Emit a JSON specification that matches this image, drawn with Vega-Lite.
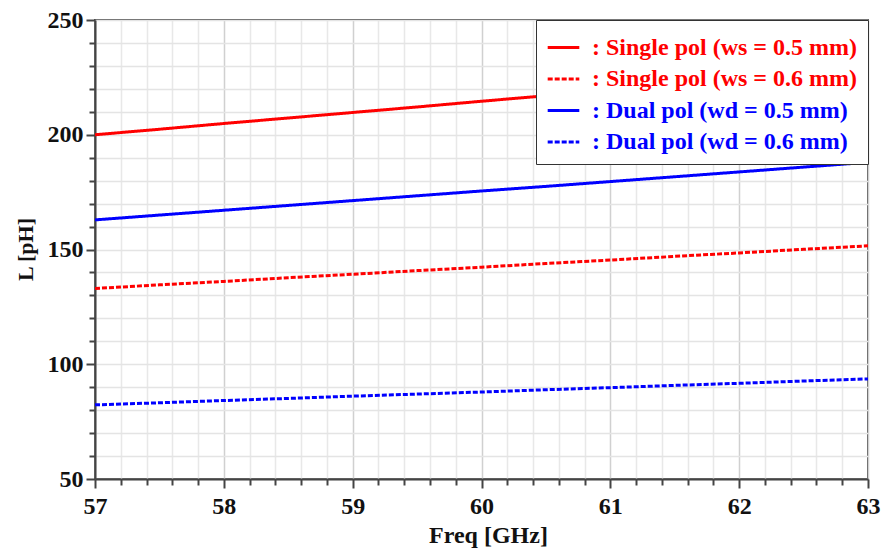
{
  "$schema": "https://vega.github.io/schema/vega-lite/v6.json",
  "autosize": "none",
  "width": 773,
  "height": 459,
  "padding": {"left": 95, "top": 20, "right": 14, "bottom": 73},
  "background": "white",
  "config": {
    "view": {"stroke": "#555", "strokeWidth": 2},
    "font": "Liberation Serif",
    "legend": {
      "title": null,
      "orient": "top-right",
      "offset": 0,
      "fillColor": "white",
      "strokeColor": "#333",
      "padding": 10,
      "symbolType": "stroke",
      "symbolSize": 1000,
      "symbolStrokeWidth": 3,
      "labelFont": "Liberation Serif",
      "labelFontWeight": "bold",
      "labelFontSize": 24,
      "labelLimit": 400,
      "labelOffset": 11,
      "rowPadding": 1.5
    }
  },
  "data": {
    "values": [
      {"f": 57, "L": 200.0, "s": ": Single pol (ws = 0.5 mm)"},
      {"f": 57.5, "L": 202.4, "s": ": Single pol (ws = 0.5 mm)"},
      {"f": 58, "L": 204.9, "s": ": Single pol (ws = 0.5 mm)"},
      {"f": 58.5, "L": 207.3, "s": ": Single pol (ws = 0.5 mm)"},
      {"f": 59, "L": 209.7, "s": ": Single pol (ws = 0.5 mm)"},
      {"f": 59.5, "L": 212.1, "s": ": Single pol (ws = 0.5 mm)"},
      {"f": 60, "L": 214.6, "s": ": Single pol (ws = 0.5 mm)"},
      {"f": 60.5, "L": 217.0, "s": ": Single pol (ws = 0.5 mm)"},
      {"f": 61, "L": 219.4, "s": ": Single pol (ws = 0.5 mm)"},
      {"f": 61.5, "L": 221.8, "s": ": Single pol (ws = 0.5 mm)"},
      {"f": 62, "L": 224.3, "s": ": Single pol (ws = 0.5 mm)"},
      {"f": 62.5, "L": 226.7, "s": ": Single pol (ws = 0.5 mm)"},
      {"f": 63, "L": 229.1, "s": ": Single pol (ws = 0.5 mm)"},
      {"f": 57, "L": 133.0, "s": ": Single pol (ws = 0.6 mm)"},
      {"f": 57.5, "L": 134.6, "s": ": Single pol (ws = 0.6 mm)"},
      {"f": 58, "L": 136.1, "s": ": Single pol (ws = 0.6 mm)"},
      {"f": 58.5, "L": 137.7, "s": ": Single pol (ws = 0.6 mm)"},
      {"f": 59, "L": 139.2, "s": ": Single pol (ws = 0.6 mm)"},
      {"f": 59.5, "L": 140.8, "s": ": Single pol (ws = 0.6 mm)"},
      {"f": 60, "L": 142.3, "s": ": Single pol (ws = 0.6 mm)"},
      {"f": 60.5, "L": 143.9, "s": ": Single pol (ws = 0.6 mm)"},
      {"f": 61, "L": 145.4, "s": ": Single pol (ws = 0.6 mm)"},
      {"f": 61.5, "L": 147.0, "s": ": Single pol (ws = 0.6 mm)"},
      {"f": 62, "L": 148.5, "s": ": Single pol (ws = 0.6 mm)"},
      {"f": 62.5, "L": 150.1, "s": ": Single pol (ws = 0.6 mm)"},
      {"f": 63, "L": 151.6, "s": ": Single pol (ws = 0.6 mm)"},
      {"f": 57, "L": 162.9, "s": ": Dual pol (wd = 0.5 mm)"},
      {"f": 57.5, "L": 165.0, "s": ": Dual pol (wd = 0.5 mm)"},
      {"f": 58, "L": 167.1, "s": ": Dual pol (wd = 0.5 mm)"},
      {"f": 58.5, "L": 169.2, "s": ": Dual pol (wd = 0.5 mm)"},
      {"f": 59, "L": 171.3, "s": ": Dual pol (wd = 0.5 mm)"},
      {"f": 59.5, "L": 173.4, "s": ": Dual pol (wd = 0.5 mm)"},
      {"f": 60, "L": 175.5, "s": ": Dual pol (wd = 0.5 mm)"},
      {"f": 60.5, "L": 177.5, "s": ": Dual pol (wd = 0.5 mm)"},
      {"f": 61, "L": 179.6, "s": ": Dual pol (wd = 0.5 mm)"},
      {"f": 61.5, "L": 181.7, "s": ": Dual pol (wd = 0.5 mm)"},
      {"f": 62, "L": 183.8, "s": ": Dual pol (wd = 0.5 mm)"},
      {"f": 62.5, "L": 185.9, "s": ": Dual pol (wd = 0.5 mm)"},
      {"f": 63, "L": 188.0, "s": ": Dual pol (wd = 0.5 mm)"},
      {"f": 57, "L": 82.3, "s": ": Dual pol (wd = 0.6 mm)"},
      {"f": 57.5, "L": 83.2, "s": ": Dual pol (wd = 0.6 mm)"},
      {"f": 58, "L": 84.2, "s": ": Dual pol (wd = 0.6 mm)"},
      {"f": 58.5, "L": 85.1, "s": ": Dual pol (wd = 0.6 mm)"},
      {"f": 59, "L": 86.1, "s": ": Dual pol (wd = 0.6 mm)"},
      {"f": 59.5, "L": 87.0, "s": ": Dual pol (wd = 0.6 mm)"},
      {"f": 60, "L": 87.9, "s": ": Dual pol (wd = 0.6 mm)"},
      {"f": 60.5, "L": 88.9, "s": ": Dual pol (wd = 0.6 mm)"},
      {"f": 61, "L": 89.8, "s": ": Dual pol (wd = 0.6 mm)"},
      {"f": 61.5, "L": 90.8, "s": ": Dual pol (wd = 0.6 mm)"},
      {"f": 62, "L": 91.7, "s": ": Dual pol (wd = 0.6 mm)"},
      {"f": 62.5, "L": 92.7, "s": ": Dual pol (wd = 0.6 mm)"},
      {"f": 63, "L": 93.6, "s": ": Dual pol (wd = 0.6 mm)"}
    ]
  },
  "mark": {"type": "line", "strokeWidth": 3, "clip": true},
  "encoding": {
    "x": {
      "field": "f", "type": "quantitative",
      "scale": {"domain": [57, 63], "nice": false, "zero": false},
      "axis": {
        "title": "Freq [GHz]",
        "values": [57, 57.2, 57.4, 57.6, 57.8, 58, 58.2, 58.4, 58.6, 58.8, 59, 59.2, 59.4, 59.6, 59.8, 60, 60.2, 60.4, 60.6, 60.8, 61, 61.2, 61.4, 61.6, 61.8, 62, 62.2, 62.4, 62.6, 62.8, 63],
        "labelExpr": "abs(datum.value - round(datum.value)) < 0.01 ? format(datum.value, 'd') : ''",
        "tickSize": {"condition": {"test": "abs(datum.value - round(datum.value)) < 0.01", "value": 9}, "value": 6},
        "gridColor": {"condition": {"test": "abs(datum.value - round(datum.value)) < 0.01", "value": "#d0d0d0"}, "value": "#e8e8e8"},
        "gridWidth": 1.5,
        "tickColor": "#444", "tickWidth": 2,
        "domainColor": "#444", "domainWidth": 2,
        "labelFont": "Liberation Serif", "labelFontWeight": "bold", "labelFontSize": 24, "labelColor": "#111",
        "labelPadding": 6, "labelFlush": false, "labelOverlap": false,
        "titleFont": "Liberation Serif", "titleFontWeight": "bold", "titleFontSize": 24, "titleColor": "#111",
        "titleX": 393, "titleY": 56, "titleBaseline": "middle"
      }
    },
    "y": {
      "field": "L", "type": "quantitative",
      "scale": {"domain": [50, 250], "nice": false, "zero": false},
      "axis": {
        "title": "L [pH]",
        "values": [50, 60, 70, 80, 90, 100, 110, 120, 130, 140, 150, 160, 170, 180, 190, 200, 210, 220, 230, 240, 250],
        "labelExpr": "datum.value % 50 === 0 ? format(datum.value, 'd') : ''",
        "tickSize": {"condition": {"test": "datum.value % 50 === 0", "value": 9}, "value": 6},
        "gridColor": "#e4e4e4",
        "gridWidth": 1.5,
        "tickColor": "#444", "tickWidth": 2,
        "domainColor": "#444", "domainWidth": 2,
        "labelFont": "Liberation Serif", "labelFontWeight": "bold", "labelFontSize": 24, "labelColor": "#111",
        "labelPadding": 3, "labelFlush": false, "labelOverlap": false,
        "titleFont": "Liberation Serif", "titleFontWeight": "bold", "titleFontSize": 22, "titleColor": "#111",
        "titleX": -70, "titleY": 229, "titleBaseline": "middle", "titleAngle": -90
      }
    },
    "color": {
      "field": "s", "type": "nominal",
      "scale": {
        "domain": [": Single pol (ws = 0.5 mm)", ": Single pol (ws = 0.6 mm)", ": Dual pol (wd = 0.5 mm)", ": Dual pol (wd = 0.6 mm)"],
        "range": ["#ff0000", "#ff0000", "#0000ff", "#0000ff"]
      },
      "legend": {
        "labelColor": {"expr": "indexof(datum.label, 'Single') >= 0 ? '#ff0000' : '#0000ff'"}
      }
    },
    "strokeDash": {
      "field": "s", "type": "nominal",
      "scale": {
        "domain": [": Single pol (ws = 0.5 mm)", ": Single pol (ws = 0.6 mm)", ": Dual pol (wd = 0.5 mm)", ": Dual pol (wd = 0.6 mm)"],
        "range": [[1, 0], [5, 2], [1, 0], [5, 2]]
      },
      "legend": {
        "labelColor": {"expr": "indexof(datum.label, 'Single') >= 0 ? '#ff0000' : '#0000ff'"}
      }
    }
  }
}
